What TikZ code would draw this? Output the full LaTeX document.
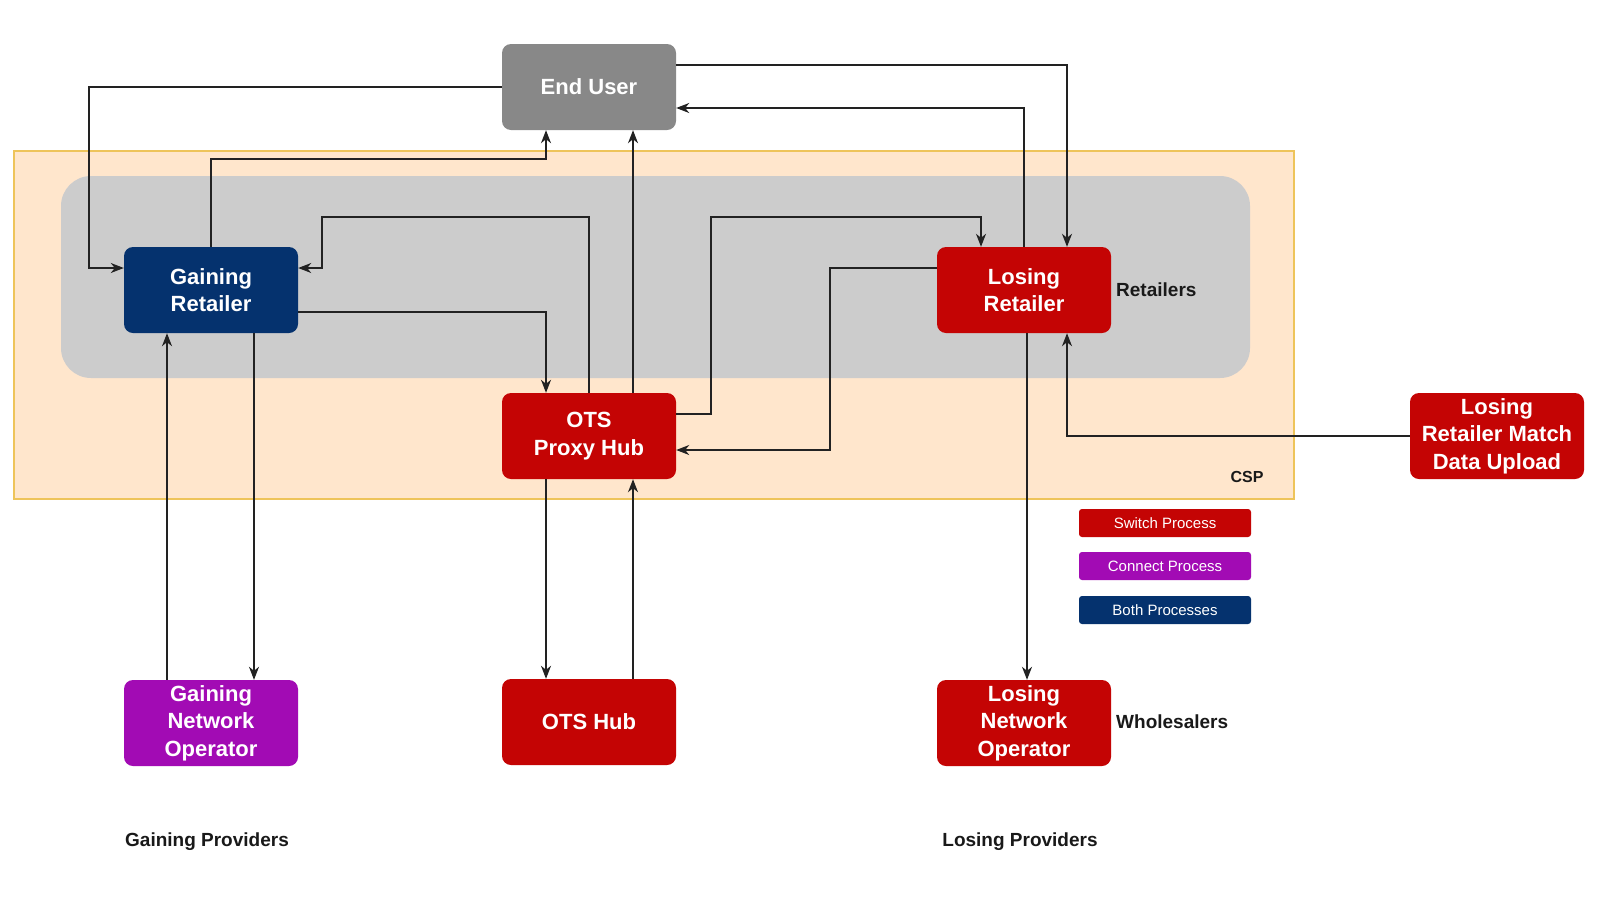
\documentclass[tikz,border=0pt]{standalone}
\usepackage{fontspec}
\setmainfont{Liberation Sans}
\usetikzlibrary{arrows.meta}
\definecolor{rred}{HTML}{C40404}
\definecolor{rpurple}{HTML}{A20BB4}
\definecolor{rnavy}{HTML}{05326E}
\definecolor{rgray}{HTML}{888888}
\definecolor{cspfill}{HTML}{FFE6CC}
\definecolor{cspline}{HTML}{EEC45A}
\definecolor{panel}{HTML}{CCCCCC}
\definecolor{wire}{HTML}{222222}
\tikzset{
  box/.style={rounded corners=9pt, minimum width=174pt, minimum height=86pt, text=white,
    font=\fontsize{22}{27.5}\selectfont\bfseries, align=center, inner sep=0pt},
  legend/.style={rounded corners=3pt, minimum width=172pt, minimum height=28pt, text=white,
    font=\fontsize{15}{18}\selectfont, inner sep=0pt},
  lbl/.style={font=\fontsize{19}{22}\selectfont\bfseries, text=black!90, inner sep=0pt},
  arr/.style={draw=wire, line width=1.3pt, -{Stealth[length=13pt,width=10pt,inset=4pt]}}
}
\begin{document}
\begin{tikzpicture}[x=1pt,y=-1pt]
\useasboundingbox (0,0) rectangle (1600,900);
\fill[white] (0,0) rectangle (1600,900);
% containers
\filldraw[fill=cspfill, draw=cspline, line width=1.5pt] (14,151) rectangle (1294,499);
\fill[panel, rounded corners=30pt] (61,176) rectangle (1250,378);
% nodes
\node[box, fill=rgray] (eu) at (589,87) {End User};
\node[box, fill=rnavy] (gr) at (211,290) {Gaining\\Retailer};
\node[box, fill=rred] (lr) at (1024,290) {Losing\\Retailer};
\node[box, fill=rred] (ph) at (589,436) {OTS\\Proxy Hub};
\node[box, fill=rred] (lrm) at (1497,436) {Losing\\Retailer Match\\Data Upload};
\node[box, fill=rpurple] (gno) at (211,723) {Gaining\\Network\\Operator};
\node[box, fill=rred] (hub) at (589,722) {OTS Hub};
\node[box, fill=rred] (lno) at (1024,723) {Losing\\Network\\Operator};
% legend
\node[legend, fill=rred] (l1) at (1165,523) {Switch Process};
\node[legend, fill=rpurple] (l2) at (1165,566) {Connect Process};
\node[legend, fill=rnavy] (l3) at (1165,610) {Both Processes};
% labels
\node[lbl, anchor=west] (tret) at (1116,290) {Retailers};
\node[lbl, anchor=west] (twho) at (1116,722) {Wholesalers};
\node[lbl, font=\fontsize{16}{19}\selectfont\bfseries] (tcsp) at (1247,477) {CSP};
\node[lbl] (tgp) at (207,842) {Gaining Providers};
\node[lbl] (tlp) at (1020,842) {Losing Providers};
% connectors
\draw[arr] (eu.west) -- (89,87) |- ([yshift=22pt]gr.west);
\draw[arr] (gr.north) |- (546,159) -- ([xshift=-43pt]eu.south);
\draw[arr] (ph.north) |- (322,217) |- ([yshift=22pt]gr.east);
\draw[arr] ([yshift=-22pt]gr.east) -| ([xshift=-43pt]ph.north);
\draw[arr] ([xshift=44pt]ph.north) -- ([xshift=44pt]eu.south);
\draw[arr] ([yshift=22pt]eu.east) -| ([xshift=43pt]lr.north);
\draw[arr] (lr.north) |- ([yshift=-21pt]eu.east);
\draw[arr] ([yshift=22pt]ph.east) -- (711,414) |- (981,217) -- ([xshift=-43pt]lr.north);
\draw[arr] ([yshift=22pt]lr.west) -- (830,268) |- ([yshift=-14pt]ph.east);
\draw[arr] ([xshift=3pt]lr.south) -- ([xshift=3pt]lno.north);
\draw[arr] (lrm.west) -| ([xshift=43pt]lr.south);
\draw[arr] ([xshift=-44pt]gno.north) -- ([xshift=-44pt]gr.south);
\draw[arr] ([xshift=43pt]gr.south) -- ([xshift=43pt]gno.north);
\draw[arr] ([xshift=-43pt]ph.south) -- ([xshift=-43pt]hub.north);
\draw[arr] ([xshift=44pt]hub.north) -- ([xshift=44pt]ph.south);
\end{tikzpicture}
\end{document}
